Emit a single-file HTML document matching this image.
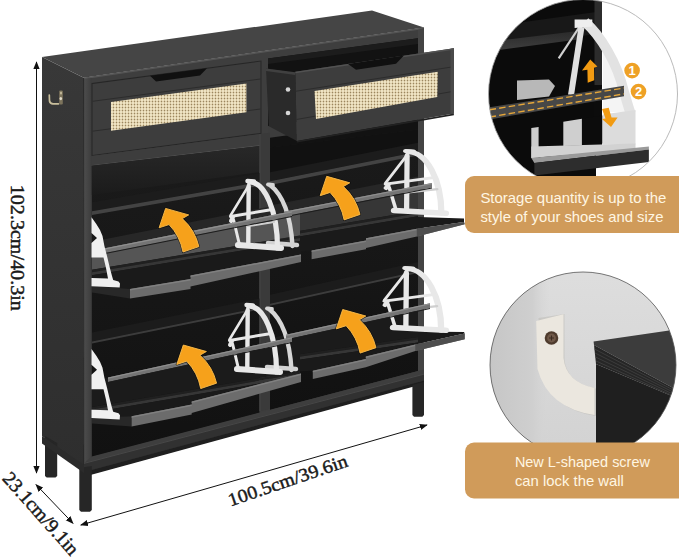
<!DOCTYPE html>
<html><head><meta charset="utf-8"><style>html,body{margin:0;padding:0;background:#fff;width:679px;height:558px;overflow:hidden}svg{display:block}</style></head>
<body><svg width="679" height="558" viewBox="0 0 679 558">
<defs>
<pattern id="rat" width="3" height="3" patternUnits="userSpaceOnUse">
<rect width="3" height="3" fill="#eee3c3"/><rect x="2" y="0" width="1" height="3" fill="#d6c6a0"/><rect x="0" y="2" width="3" height="1" fill="#dccdaa"/><rect x="2" y="2" width="1" height="1" fill="#9a8660"/>
</pattern>
<linearGradient id="sideg" x1="0" y1="0" x2="0" y2="1"><stop offset="0" stop-color="#383838"/><stop offset="1" stop-color="#2e2e2e"/></linearGradient>
<linearGradient id="intg" x1="0" y1="0" x2="0" y2="1"><stop offset="0" stop-color="#1b1b1b"/><stop offset="1" stop-color="#111111"/></linearGradient>
<linearGradient id="upg" x1="0" y1="0" x2="0" y2="1"><stop offset="0" stop-color="#282828"/><stop offset="1" stop-color="#1b1b1b"/></linearGradient>
<linearGradient id="shelfg" x1="0" y1="0" x2="0" y2="1"><stop offset="0" stop-color="#2a2a2a"/><stop offset="1" stop-color="#404040"/></linearGradient>
<linearGradient id="wallh" x1="0" y1="0" x2="1" y2="0"><stop offset="0" stop-color="#c4c4c4"/><stop offset="0.75" stop-color="#cfcfcf"/><stop offset="1" stop-color="#d6d6d6" stop-opacity="0"/></linearGradient>
<linearGradient id="stileg" x1="0" y1="0" x2="1" y2="0"><stop offset="0" stop-color="#4c4c4c"/><stop offset="1" stop-color="#3c3c3c"/></linearGradient>
<linearGradient id="wallg" x1="0" y1="0" x2="0" y2="1"><stop offset="0" stop-color="#dedede"/><stop offset="1" stop-color="#d2d2d2"/></linearGradient>
<clipPath id="c1"><circle cx="583" cy="94" r="94.5"/></clipPath>
<clipPath id="c2"><circle cx="583" cy="365" r="93"/></clipPath>
<marker id="ah" viewBox="0 0 10 10" refX="9" refY="5" markerWidth="8" markerHeight="8" markerUnits="userSpaceOnUse" orient="auto-start-reverse"><path d="M0,1 L10,5 L0,9 z" fill="#111"/></marker>
</defs>
<polygon points="42.0,57.0 83.7,77.7 84.0,470.0 42.0,436.0" fill="url(#sideg)" />
<polygon points="42.0,57.0 372.0,10.5 424.0,27.5 83.7,77.7" fill="#454545" />
<polygon points="83.7,77.7 424.0,27.5 424.0,383.0 84.0,476.0" fill="#3e3e3e" />
<polygon points="83.7,77.7 424.0,27.5 424.0,29.0 83.7,79.2" fill="#555" />
<polyline points="83.6,78.0 84.0,470.0" stroke="#262626" stroke-width="1" fill="none" />
<polygon points="84.3,79.0 91.8,78.0 91.8,466.0 84.3,468.0" fill="url(#stileg)" />
<polygon points="91.5,83.0 261.5,60.4 261.5,134.0 91.5,156.0" fill="#262626" />
<polygon points="92.5,84.0 260.5,61.6 260.5,133.0 92.5,155.0" fill="#3d3d3d" />
<polygon points="150.0,75.8 156.0,81.5 200.0,75.6 207.0,68.2" fill="#101010" />
<polyline points="92.5,101.3 260.5,79.0" stroke="#2c2c2c" stroke-width="1" fill="none" />
<polyline points="92.5,131.2 260.5,109.0" stroke="#2c2c2c" stroke-width="1" fill="none" />
<polygon points="111.0,101.9 246.4,83.6 246.4,112.2 111.0,130.7" fill="url(#rat)" />
<polygon points="91.8,156.0 260.0,134.0 260.0,145.8 91.8,165.8" fill="#3d3d3d" />
<polyline points="91.8,165.6 260.0,145.6" stroke="#555" stroke-width="0.8" fill="none" />
<polygon points="418.0,30.0 424.0,28.0 424.0,383.0 418.0,385.0" fill="#444444" />
<polygon points="268.0,58.5 418.0,38.2 418.0,136.0 268.0,151.0" fill="#121212" />
<polygon points="268.0,58.5 418.0,38.2 418.0,44.0 268.0,64.0" fill="#1c1c1c" />
<polygon points="268.0,126.0 297.0,122.0 297.0,134.0 268.0,138.0" fill="#3d3d3d" />
<polygon points="266.0,68.5 295.3,73.0 297.0,141.0 268.8,126.3" fill="#2a2a2a" />
<polygon points="266.0,68.5 295.3,72.2 295.3,75.0 266.0,71.0" fill="#404040" />
<circle cx="288" cy="89.5" r="2.3" fill="#d6d6d6"/><circle cx="288" cy="113" r="2.3" fill="#d6d6d6"/>
<polygon points="295.3,71.8 453.9,48.3 453.9,113.6 296.8,141.0" fill="#3d3d3d" />
<polygon points="450.5,48.8 453.9,48.3 453.9,113.6 450.5,114.2" fill="#4a4a4a" />
<polygon points="295.3,71.8 453.9,48.3 453.9,49.8 295.3,73.3" fill="#525252" />
<polygon points="348.0,63.9 356.0,69.8 396.0,63.8 404.0,55.6" fill="#101010" />
<polyline points="296.0,91.2 450.5,67.2" stroke="#2c2c2c" stroke-width="1" fill="none" />
<polyline points="296.5,119.5 450.5,91.8" stroke="#2c2c2c" stroke-width="1" fill="none" />
<polygon points="314.5,91.0 437.8,71.8 437.3,97.0 316.0,119.0" fill="url(#rat)" />
<polygon points="296.8,141.0 453.9,113.6 453.9,115.2 296.8,142.6" fill="#222" />
<polygon points="91.8,165.8 259.5,146.0 259.5,413.0 91.8,457.0" fill="url(#intg)" />
<polygon points="270.0,147.5 418.0,129.5 418.0,371.0 270.0,410.0" fill="url(#intg)" />
<polygon points="91.8,165.8 259.5,146.0 259.5,172.0 91.8,195.0" fill="url(#upg)" />
<polygon points="270.0,147.5 418.0,129.5 418.0,152.0 270.0,181.5" fill="#111111" />
<polygon points="259.5,134.0 270.0,132.8 270.0,409.0 259.5,411.5" fill="#3a3a3a" />
<polyline points="260.0,134.0 260.0,411.0" stroke="#4a4a4a" stroke-width="0.8" fill="none" />
<polygon points="91.8,456.5 424.0,369.5 424.0,374.0 84.0,463.2" fill="#3e3e3e" />
<polygon points="84.0,463.2 424.0,374.0 424.0,380.5 84.0,472.0" fill="#313131" />
<polygon points="84.0,472.0 424.0,380.5 424.0,383.7 84.0,476.7" fill="#1f1f1f" />
<polyline points="84.0,463.4 424.0,374.2" stroke="#4c4c4c" stroke-width="0.8" fill="none" />
<polygon points="79.3,468.0 91.8,466.0 91.8,510.0 90.0,511.8 81.0,511.8 79.3,510.0" fill="#262626" />
<polygon points="45.0,436.0 57.2,443.0 57.2,476.0 55.5,477.6 46.7,477.6 45.0,476.0" fill="#262626" />
<polygon points="412.4,385.0 424.0,382.0 424.0,415.0 422.4,416.8 414.0,416.8 412.4,415.0" fill="#262626" />
<polygon points="42.0,436.0 84.0,465.0 84.0,473.0 42.0,443.5" fill="#2b2b2b" />
<polygon points="270.0,172.3 418.0,142.8 418.0,151.8 270.0,181.3" fill="#1c1c1c" /><polygon points="270.0,181.3 418.0,151.8 418.0,155.6 270.0,185.1" fill="#434343" /><polygon points="270.0,205.4 418.0,176.6 418.0,185.6 270.0,214.4" fill="#272727" /><polygon points="270.0,214.4 418.0,185.6 418.0,210.7 270.0,235.9" fill="#363636" /><polygon points="270.0,235.9 418.0,210.7 418.0,213.2 270.0,238.4" fill="#202020" /><polygon points="270.0,238.4 418.0,213.2 418.0,216.2 270.0,241.4" fill="#363636" /><polygon points="270.0,241.4 418.0,216.2 418.0,216.9 464.0,218.4 464.0,222.1 416.8,228.7 366.0,238.2 366.0,240.6 311.6,250.5 270.0,252.5" fill="#1a1a1a" /><polygon points="311.6,250.5 366.0,240.6 366.0,238.2 416.8,228.7 464.0,222.1 464.7,224.3 416.8,236.5 366.0,248.0 366.0,249.3 311.6,259.2" fill="#6c6c6c" /><polygon points="311.6,250.5 366.0,240.6 366.0,242.1 311.6,252.0" fill="#808080" /><polygon points="366.0,238.2 416.8,228.7 416.8,230.2 366.0,239.7" fill="#808080" /><polygon points="416.8,228.7 464.0,222.1 464.7,224.3 416.8,236.5" fill="#4e4e4e" />
<polygon points="270.0,294.8 418.0,262.0 418.0,271.0 270.0,303.8" fill="#1c1c1c" /><polygon points="270.0,303.8 418.0,271.0 418.0,273.0 270.0,305.8" fill="#3c3c3c" /><polygon points="270.0,338.2 418.0,305.8 418.0,336.9 270.0,358.6" fill="#1b1b1b" /><polygon points="270.0,358.6 418.0,336.9 418.0,339.4 270.0,361.1" fill="#202020" /><polygon points="270.0,361.1 418.0,339.4 418.0,342.4 270.0,364.1" fill="#363636" /><polygon points="270.0,364.1 418.0,342.4 418.0,331.4 464.0,332.0 464.7,333.4 415.3,344.5 365.8,356.6 365.8,358.9 312.8,370.7 270.0,372.7" fill="#1a1a1a" /><polygon points="312.8,370.7 365.8,358.9 365.8,356.6 415.3,344.5 464.7,333.4 464.7,339.3 415.3,351.0 365.8,367.2 365.8,367.2 312.8,379.0" fill="#6c6c6c" /><polygon points="312.8,370.7 365.8,358.9 365.8,360.4 312.8,372.2" fill="#808080" /><polygon points="365.8,356.6 415.3,344.5 415.3,346.0 365.8,358.1" fill="#808080" /><polygon points="415.3,344.5 464.7,333.4 464.7,339.3 415.3,351.0" fill="#4e4e4e" />
<polygon points="92.0,202.2 259.5,173.1 259.5,182.1 92.0,211.2" fill="#1c1c1c" /><polygon points="92.0,211.2 259.5,182.1 259.5,185.9 92.0,215.0" fill="#434343" /><polygon points="92.0,241.8 300.0,200.6 300.0,209.6 92.0,250.8" fill="#272727" /><polygon points="92.0,250.8 300.0,209.6 300.0,235.4 92.0,269.8" fill="#555555" /><polygon points="92.0,269.8 300.0,235.4 300.0,237.9 92.0,272.3" fill="#202020" /><polygon points="92.0,272.3 300.0,237.9 300.0,240.9 92.0,275.3" fill="#363636" /><polygon points="92.0,275.3 301.0,240.7 301.0,254.5 190.5,275.5 190.5,279.0 130.0,289.0 92.0,291.0" fill="#1a1a1a" /><polygon points="92.0,286.0 130.0,289.0 130.0,298.6 92.0,292.5" fill="#282828" /><polygon points="130.0,289.0 190.5,279.0 190.5,275.5 301.0,254.5 301.0,262.0 190.5,286.5 190.5,288.9 130.0,298.6" fill="#6c6c6c" /><polygon points="130.0,289.0 190.5,279.0 190.5,280.5 130.0,290.5" fill="#808080" /><polygon points="190.5,275.5 301.0,254.5 301.0,256.0 190.5,277.0" fill="#808080" />
<polygon points="92.0,332.6 259.5,298.6 259.5,307.6 92.0,341.6" fill="#1c1c1c" /><polygon points="92.0,341.6 259.5,307.6 259.5,309.6 92.0,343.6" fill="#3c3c3c" /><polygon points="92.0,380.9 300.0,335.5 300.0,371.0 92.0,407.1" fill="#1b1b1b" /><polygon points="92.0,407.1 300.0,371.0 300.0,373.5 92.0,409.6" fill="#202020" /><polygon points="92.0,409.6 300.0,373.5 300.0,376.5 92.0,412.6" fill="#363636" /><polygon points="92.0,412.6 301.0,376.3 301.0,373.5 191.7,401.5 191.7,404.5 131.6,416.3 92.0,418.3" fill="#1a1a1a" /><polygon points="92.0,417.5 131.6,416.3 131.6,426.5 92.0,423.5" fill="#282828" /><polygon points="131.6,416.3 191.7,404.5 191.7,401.5 301.0,373.5 301.0,382.0 191.7,413.0 191.7,414.5 131.6,426.5" fill="#6c6c6c" /><polygon points="131.6,416.3 191.7,404.5 191.7,406.0 131.6,417.8" fill="#808080" /><polygon points="191.7,401.5 301.0,373.5 301.0,375.0 191.7,403.0" fill="#808080" />
<g fill="none" stroke="#e8e8e8" stroke-linecap="round" stroke-linejoin="round" transform="translate(0.0,0.0)">
<path d="M270,185 C283,195 290.5,213 292.5,246" stroke-width="4.4" stroke="#d6d6d6"/><path d="M268,243 L297,245" stroke-width="4.5" stroke="#d2d2d2"/><path d="M268,184.5 L273,185" stroke-width="3.8" stroke="#d6d6d6"/>
<path d="M249.5,182 A28,66 0 0 1 277.5,248" stroke-width="5.2"/>
<path d="M248.7,186 L248.3,243" stroke-width="4.4"/>
<path d="M249,185 L230.5,215.5" stroke-width="2.5"/>
<path d="M230.5,216.5 L272.3,209.4" stroke-width="3"/>
<path d="M233.6,220 L239.3,244" stroke-width="3"/>
<path d="M238,245 L281,248" stroke-width="6"/>
<path d="M247.5,181 L254,181.5" stroke-width="4.4"/>
<path d="M248,226 L274,222" stroke-width="2.2" stroke="#cfcfcf"/><path d="M233,217 L231,221" stroke-width="4"/>
</g>
<g fill="none" stroke="#e8e8e8" stroke-linecap="round" stroke-linejoin="round" transform="translate(-1.0,124.0)">
<path d="M270,185 C283,195 290.5,213 292.5,246" stroke-width="4.4" stroke="#d6d6d6"/><path d="M268,243 L297,245" stroke-width="4.5" stroke="#d2d2d2"/><path d="M268,184.5 L273,185" stroke-width="3.8" stroke="#d6d6d6"/>
<path d="M249.5,182 A28,66 0 0 1 277.5,248" stroke-width="5.2"/>
<path d="M248.7,186 L248.3,243" stroke-width="4.4"/>
<path d="M249,185 L230.5,215.5" stroke-width="2.5"/>
<path d="M230.5,216.5 L272.3,209.4" stroke-width="3"/>
<path d="M233.6,220 L239.3,244" stroke-width="3"/>
<path d="M238,245 L281,248" stroke-width="6"/>
<path d="M247.5,181 L254,181.5" stroke-width="4.4"/>
<path d="M248,226 L274,222" stroke-width="2.2" stroke="#cfcfcf"/><path d="M233,217 L231,221" stroke-width="4"/>
</g>
<g fill="none" stroke="#e8e8e8" stroke-linecap="round" stroke-linejoin="round" transform="translate(409.6,151) scale(1.19,0.93) translate(-250.8,-181)">

<path d="M249.5,182 A28,66 0 0 1 277.5,248" stroke-width="5.2"/>
<path d="M248.7,186 L248.3,243" stroke-width="4.4"/>
<path d="M249,185 L230.5,215.5" stroke-width="2.5"/>
<path d="M230.5,216.5 L272.3,209.4" stroke-width="3"/>
<path d="M233.6,220 L239.3,244" stroke-width="3"/>
<path d="M238,245 L281,248" stroke-width="6"/>
<path d="M247.5,181 L254,181.5" stroke-width="4.4"/>
<path d="M248,226 L274,222" stroke-width="2.2" stroke="#cfcfcf"/><path d="M233,217 L231,221" stroke-width="4"/>
</g>
<g fill="none" stroke="#e8e8e8" stroke-linecap="round" stroke-linejoin="round" transform="translate(408.9,268) scale(1.21,0.93) translate(-250.8,-181)">

<path d="M249.5,182 A28,66 0 0 1 277.5,248" stroke-width="5.2"/>
<path d="M248.7,186 L248.3,243" stroke-width="4.4"/>
<path d="M249,185 L230.5,215.5" stroke-width="2.5"/>
<path d="M230.5,216.5 L272.3,209.4" stroke-width="3"/>
<path d="M233.6,220 L239.3,244" stroke-width="3"/>
<path d="M238,245 L281,248" stroke-width="6"/>
<path d="M247.5,181 L254,181.5" stroke-width="4.4"/>
<path d="M248,226 L274,222" stroke-width="2.2" stroke="#cfcfcf"/><path d="M233,217 L231,221" stroke-width="4"/>
</g>
<polygon points="285.0,211.5 432.0,182.9 432.0,187.6 285.0,216.2" fill="#747474" /><polygon points="285.0,211.5 432.0,182.9 432.0,184.2 285.0,212.8" fill="#8e8e8e" /><polygon points="285.0,216.2 432.0,187.6 432.0,188.6 285.0,217.2" fill="#1c1c1c" />
<polygon points="286.0,334.7 430.0,303.2 430.0,307.9 286.0,339.4" fill="#747474" /><polygon points="286.0,334.7 430.0,303.2 430.0,304.5 286.0,336.0" fill="#8e8e8e" /><polygon points="286.0,339.4 430.0,307.9 430.0,308.9 286.0,340.4" fill="#1c1c1c" />
<polygon points="100.0,249.2 292.0,211.2 292.0,215.9 100.0,253.9" fill="#747474" /><polygon points="100.0,249.2 292.0,211.2 292.0,212.5 100.0,250.5" fill="#8e8e8e" /><polygon points="100.0,253.9 292.0,215.9 292.0,216.9 100.0,254.9" fill="#1c1c1c" />
<polygon points="108.0,377.4 292.0,337.2 292.0,341.9 108.0,382.1" fill="#747474" /><polygon points="108.0,377.4 292.0,337.2 292.0,338.5 108.0,378.7" fill="#8e8e8e" /><polygon points="108.0,382.1 292.0,341.9 292.0,342.9 108.0,383.1" fill="#1c1c1c" />
<g transform="translate(0.0,0.0)"><polygon points="91.5,217.3 96.3,224.0 100.0,230.0 102.5,236.0 104.4,246.0 107.0,256.0 109.5,266.5 112.0,276.0 113.2,280.0 118.5,281.5 120.0,283.5 119.7,287.6 91.5,286.2 91.5,278.0 108.0,278.5 106.0,268.0 103.5,257.5 91.5,257.5 91.5,243.0 97.0,238.0 91.5,233.0" fill="#f0f0f0"/></g>
<g transform="translate(0.0,131.8)"><polygon points="91.5,217.3 96.3,224.0 100.0,230.0 102.5,236.0 104.4,246.0 107.0,256.0 109.5,266.5 112.0,276.0 113.2,280.0 118.5,281.5 120.0,283.5 119.7,287.6 91.5,286.2 91.5,278.0 108.0,278.5 106.0,268.0 103.5,257.5 91.5,257.5 91.5,243.0 97.0,238.0 91.5,233.0" fill="#f0f0f0"/></g>
<path d="M165.6,208.4 L188.7,214.9 L182.3,218.6 Q195.0,230.0 198.9,246.6 L183.0,252.0 Q180.0,236.0 169.0,224.6 L159.1,227.8 Z" fill="none" stroke="#0a0a0a" stroke-width="2.2" stroke-linejoin="round" opacity="0.7"/><path d="M165.6,208.4 L188.7,214.9 L182.3,218.6 Q195.0,230.0 198.9,246.6 L183.0,252.0 Q180.0,236.0 169.0,224.6 L159.1,227.8 Z" fill="#f6a11b" stroke="#fbbd4e" stroke-width="0.9" stroke-linejoin="round"/>
<path d="M326.7,176.3 L349.8,182.8 L343.4,186.5 Q356.1,197.9 360.0,214.5 L344.1,219.9 Q341.1,203.9 330.1,192.5 L320.2,195.7 Z" fill="none" stroke="#0a0a0a" stroke-width="2.2" stroke-linejoin="round" opacity="0.7"/><path d="M326.7,176.3 L349.8,182.8 L343.4,186.5 Q356.1,197.9 360.0,214.5 L344.1,219.9 Q341.1,203.9 330.1,192.5 L320.2,195.7 Z" fill="#f6a11b" stroke="#fbbd4e" stroke-width="0.9" stroke-linejoin="round"/>
<path d="M183.3,345.0 L206.4,351.5 L200.0,355.2 Q212.7,366.6 216.6,383.2 L200.7,388.6 Q197.7,372.6 186.7,361.2 L176.8,364.4 Z" fill="none" stroke="#0a0a0a" stroke-width="2.2" stroke-linejoin="round" opacity="0.7"/><path d="M183.3,345.0 L206.4,351.5 L200.0,355.2 Q212.7,366.6 216.6,383.2 L200.7,388.6 Q197.7,372.6 186.7,361.2 L176.8,364.4 Z" fill="#f6a11b" stroke="#fbbd4e" stroke-width="0.9" stroke-linejoin="round"/>
<path d="M342.7,309.5 L365.8,316.0 L359.4,319.7 Q372.1,331.1 376.0,347.7 L360.1,353.1 Q357.1,337.1 346.1,325.7 L336.2,328.9 Z" fill="none" stroke="#0a0a0a" stroke-width="2.2" stroke-linejoin="round" opacity="0.7"/><path d="M342.7,309.5 L365.8,316.0 L359.4,319.7 Q372.1,331.1 376.0,347.7 L360.1,353.1 Q357.1,337.1 346.1,325.7 L336.2,328.9 Z" fill="#f6a11b" stroke="#fbbd4e" stroke-width="0.9" stroke-linejoin="round"/>
<path d="M49.3,95 L49.5,101 Q50,103.6 53,103.8 L58.5,103.8" stroke="#c9bf9c" stroke-width="1.7" fill="none" stroke-linecap="round"/><rect x="59.2" y="90.5" width="3.6" height="14" rx="1" fill="#7d745c"/><ellipse cx="60.8" cy="98.6" rx="1.3" ry="1.6" fill="#e2dccb"/><ellipse cx="61" cy="93" rx="1" ry="1.5" fill="#c5bb9c"/>
<g stroke="#111" stroke-width="1" fill="none">
<line x1="36.5" y1="62" x2="36.5" y2="473" marker-start="url(#ah)" marker-end="url(#ah)"/>
<line x1="36" y1="484.6" x2="73" y2="523.3" marker-start="url(#ah)" marker-end="url(#ah)"/>
<line x1="80.8" y1="525" x2="427" y2="425" marker-start="url(#ah)" marker-end="url(#ah)"/>
</g>
<g font-family="Liberation Serif, serif" fill="#1a1a1a" font-size="18.5" stroke="#1a1a1a" stroke-width="0.45">
<text transform="translate(10.8,184.8) rotate(90)" textLength="126" lengthAdjust="spacingAndGlyphs">102.3cm/40.3in</text>
<text transform="translate(1.5,479) rotate(48.3)" textLength="104" lengthAdjust="spacingAndGlyphs" font-size="19.5">23.1cm/9.1in</text>
<text transform="translate(230.6,506.4) rotate(-18.9)" textLength="125" lengthAdjust="spacingAndGlyphs">100.5cm/39.6in</text>
</g>
<g clip-path="url(#c1)">
<rect x="480" y="0" width="200" height="200" fill="#ffffff"/>
<polygon points="480,0 596,0 596,200 480,200" fill="#0b0b0b"/>
<polygon points="480,28 596,12 596,34 480,50" fill="#181818"/>
<polygon points="480,43 578,31 578,39.5 480,52.5" fill="url(#shelfg)"/>
<polygon points="594.5,0 602,0 602,85 594.5,85" fill="#2c2c2c"/><polygon points="594,85 602,85 602,146 594,146" fill="#0c0c0c"/>
<polygon points="603,40 612,60 630,100 636,112 603,112" fill="#f4f4f4"/>
<path d="M585,22 C600,35 617,62 624,92 L630,112" stroke="#e2e2e2" stroke-width="10" fill="none"/>
<path d="M580,26 L558.7,58.3" stroke="#d0d0d0" stroke-width="2.2" fill="none"/>
<path d="M581.5,27 L571,95" stroke="#e0e0e0" stroke-width="6" fill="none"/>
<polygon points="574.6,19.4 592.3,19.4 592.3,26.5 574.6,28" fill="#eeeeee"/>
<polygon points="517,80.6 549,79.5 555,86 549,96.5 517,100" fill="#b8b8b8"/>
<polygon points="581.9,118.7 602.5,115.6 602.5,143.5 581.9,145.5" fill="#0c0c0c"/>
<polygon points="602.5,114.6 635.5,110 635.5,144.5 602.5,144.5" fill="#dcdcdc"/>
<polygon points="531.3,128 538.6,127 538.6,157.5 531.3,158" fill="#cdcdcd"/>
<polygon points="531.3,146.5 635.5,143.5 635.5,149.6 531.3,157.9" fill="#d2d2d2"/>
<polygon points="563.3,121.8 581.9,118.7 581.9,145.5 563.3,146" fill="#cfcfcf"/>
<polygon points="531.3,157.9 648.9,146.6 648.9,149.6 534.4,163" fill="#9a9a9a"/>
<polygon points="534.4,163 648.9,149.6 648.9,162 534.4,175.4" fill="#2d2d2d"/>
<polygon points="480,108.9 624,85.7 624,96.2 480,121.1" fill="#474747"/>
<path d="M480,111.3 L624,88 M480,118.7 L624,93.9" stroke="#e5a63a" stroke-width="1.4" stroke-dasharray="6.5,3.2" fill="none"/>
</g>
<circle cx="583" cy="94" r="94.5" fill="none" stroke="#a8a8a8" stroke-width="0.8"/>
<path d="M590.2,59.4 L597.4,66.6 L594,67.8 L594.2,80.3 L587.7,82.7 L587.4,69.8 L582,70.6 Z" fill="#f29b12"/>
<path d="M611,127 L602,119 L605.5,118.5 L602,109 L608.7,107.7 L611.5,117.6 L617.6,117.4 Z" fill="#f29b12"/>
<circle cx="632.1" cy="70.6" r="7.8" fill="#eea126"/><text x="632.1" y="75.4" font-family="Liberation Sans, sans-serif" font-size="13" font-weight="bold" fill="#fff" text-anchor="middle">1</text>
<circle cx="638.5" cy="91.6" r="7.8" fill="#eea126"/><text x="638.5" y="96.4" font-family="Liberation Sans, sans-serif" font-size="13" font-weight="bold" fill="#fff" text-anchor="middle">2</text>

<g clip-path="url(#c2)">
<rect x="480" y="260" width="200" height="200" fill="url(#wallg)"/>
<rect x="480" y="260" width="70" height="200" fill="url(#wallh)"/>
<path d="M538.5,318 L564.5,314 L564.5,360 Q567,383 596,388.5 L596,416 Q552,410 540,370 Z" fill="#b9b6b0" opacity="0.45"/>
<path d="M536.2,321 L563.5,314.3 L563.5,358 Q566,382 594.5,388 L594.5,415 Q548,408 537.5,369 Z" fill="#ebe7df"/>
<circle cx="551.5" cy="338" r="6.8" fill="#4e3b2d"/><circle cx="551.5" cy="338" r="4.4" fill="#6f5848"/><path d="M549,338 L554,338 M551.5,335.5 L551.5,340.5" stroke="#3a2a20" stroke-width="1.1"/>
<polygon points="593.6,341.5 679,329 679,391 594,345" fill="#3c3c3c"/>
<polygon points="594,345 679,391 679,399 596,364" fill="#262626"/>
<path d="M594.5,349 L679,393 M595,353 L679,395 M595.5,357 L679,397 M596,361 L679,398.5" stroke="#3c3c3c" stroke-width="1" fill="none"/>
<polygon points="596,364 679,399 679,460 596,460" fill="#1f1f1f"/>
</g>
<circle cx="583" cy="365" r="93" fill="none" stroke="#555" stroke-width="0.8"/>

<rect x="465" y="176" width="230" height="57" rx="9" fill="#d09b5a"/>
<rect x="465" y="442.5" width="230" height="56" rx="9" fill="#d09b5a"/>
<g font-family="Liberation Sans, sans-serif" font-size="14.6" fill="#fff6e2">
<text x="480.4" y="203.3" textLength="186" lengthAdjust="spacingAndGlyphs">Storage quantity is up to the</text>
<text x="480.4" y="222.2" textLength="183" lengthAdjust="spacingAndGlyphs">style of your shoes and size</text>
<text x="514.9" y="467.3" textLength="135" lengthAdjust="spacingAndGlyphs">New L-shaped screw</text>
<text x="514.9" y="485.7" textLength="109" lengthAdjust="spacingAndGlyphs">can lock the wall</text>
</g>
</svg></body></html>
